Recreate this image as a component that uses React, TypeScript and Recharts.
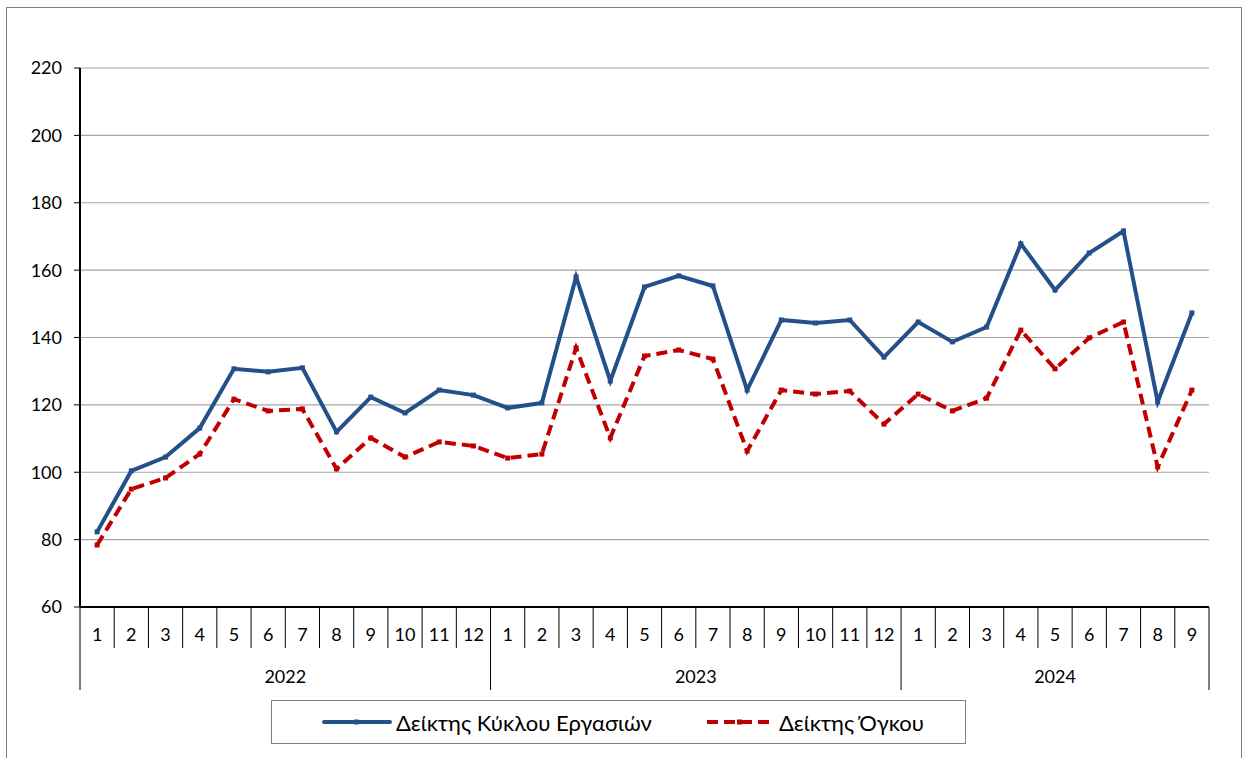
import { CartesianGrid, Line, LineChart, XAxis, YAxis } from "recharts";

/* Δείκτες Κύκλου Εργασιών / Όγκου, monthly 2022–2024 (Excel-style line chart). */

const months = [
  "1", "2", "3", "4", "5", "6", "7", "8", "9", "10", "11", "12",
  "1", "2", "3", "4", "5", "6", "7", "8", "9", "10", "11", "12",
  "1", "2", "3", "4", "5", "6", "7", "8", "9",
];
const years = [
  "2022", "2022", "2022", "2022", "2022", "2022", "2022", "2022", "2022", "2022", "2022", "2022",
  "2023", "2023", "2023", "2023", "2023", "2023", "2023", "2023", "2023", "2023", "2023", "2023",
  "2024", "2024", "2024", "2024", "2024", "2024", "2024", "2024", "2024",
];
const turnover = [
  82.3, 100.4, 104.5, 113.1, 130.7, 129.8, 131.0, 112.0, 122.3, 117.6, 124.4, 122.9,
  119.1, 120.6, 158.0, 127.1, 155.0, 158.3, 155.3, 124.4, 145.2, 144.3, 145.2, 134.2,
  144.6, 138.7, 143.1, 167.8, 154.1, 165.1, 171.6, 120.9, 147.3,
];
const volume = [
  78.4, 95.0, 98.3, 105.4, 121.7, 118.2, 118.8, 101.0, 110.2, 104.5, 109.0, 107.8,
  104.2, 105.4, 136.9, 110.2, 134.5, 136.3, 133.6, 106.3, 124.4, 123.2, 124.1, 114.3,
  123.2, 118.2, 122.0, 142.2, 130.7, 139.9, 144.6, 101.6, 124.4,
];
const yTicks = [60, 80, 100, 120, 140, 160, 180, 200, 220];

const SERIES_TURNOVER = "Δείκτης Κύκλου Εργασιών";
const SERIES_VOLUME = "Δείκτης Όγκου";

const data = months.map((m, i) => ({
  key: `${years[i]}-${m}`,
  month: m,
  year: years[i],
  turnover: turnover[i],
  volume: volume[i],
}));

const W = 1245;
const H = 758;
const M = { top: 68, right: 36, bottom: 61, left: 0 };
const Y_AXIS_W = 80;
const X_AXIS_H = 90;
const PLOT_W = W - M.left - M.right - Y_AXIS_W;
const BAND = PLOT_W / data.length;

const FONT = "Lato, 'Open Sans', sans-serif";
const BLUE = "#24508a";
const RED = "#c00000";

function SquareDot({ cx, cy, fill }: { cx?: number; cy?: number; fill: string }) {
  if (cx == null || cy == null) return <g />;
  return <rect x={cx - 2.5} y={cy - 2.5} width={5} height={5} fill={fill} />;
}

/* Month label + category dividers, and the year label under its group. */
function MonthTick(props: any) {
  const { x, y, index } = props;
  const i: number = index;
  const firstOfYear = i === 0 || years[i] !== years[i - 1];
  const last = i === data.length - 1;
  const left = x - BAND / 2;
  const right = x + BAND / 2;
  let yearLabel = null;
  if (firstOfYear) {
    const count = years.filter((yr) => yr === years[i]).length;
    const cx = left + (count * BAND) / 2;
    yearLabel = (
      <text x={cx} y={y + 69} textAnchor="middle" dominantBaseline="central" fontSize={18} fill="#000" fontFamily={FONT}>
        {years[i]}
      </text>
    );
  }
  return (
    <g>
      <line x1={left} x2={left} y1={y} y2={y + (firstOfYear ? 83 : 41)} stroke="#000" strokeWidth={1} />
      {last && <line x1={right} x2={right} y1={y} y2={y + 83} stroke="#000" strokeWidth={1} />}
      <text x={x} y={y + 27} textAnchor="middle" dominantBaseline="central" fontSize={18} fill="#000" fontFamily={FONT}>
        {months[i]}
      </text>
      {yearLabel}
    </g>
  );
}

function LegendSample({ color, dashed }: { color: string; dashed?: boolean }) {
  return (
    <svg width={70} height={10} style={{ display: "block" }}>
      <line
        x1={2}
        x2={68}
        y1={5}
        y2={5}
        stroke={color}
        strokeWidth={4}
        strokeDasharray={dashed ? "11 6" : undefined}
        strokeLinecap={dashed ? "butt" : "round"}
      />
      <rect x={32} y={2.5} width={5} height={5} fill={color} />
    </svg>
  );
}

export default function App() {
  return (
    <div style={{ position: "absolute", left: 0, top: 0, width: W, height: H, background: "#fff", overflow: "hidden" }}>
      <div
        style={{
          position: "absolute",
          left: 6,
          top: 7,
          width: 1236,
          height: 780,
          border: "1.5px solid #808080",
          boxSizing: "border-box",
        }}
      />
      <LineChart width={W} height={H} data={data} margin={M}>
        <CartesianGrid vertical={false} stroke="#a6a6a6" strokeWidth={1.2} />
        <XAxis
          dataKey="key"
          interval={0}
          height={X_AXIS_H}
          padding={{ left: BAND / 2, right: BAND / 2 }}
          tickLine={false}
          tickSize={0}
          tickMargin={0}
          axisLine={{ stroke: "#000", strokeWidth: 2 }}
          tick={<MonthTick />}
        />
        <XAxis
          xAxisId="top"
          dataKey="key"
          orientation="top"
          height={0}
          tick={false}
          tickLine={false}
          axisLine={{ stroke: "#000", strokeWidth: 2 }}
        />
        <YAxis
          domain={[60, 220]}
          ticks={yTicks}
          width={Y_AXIS_W}
          tickSize={6}
          tickMargin={12}
          tickLine={{ stroke: "#000" }}
          axisLine={{ stroke: "#000", strokeWidth: 2 }}
          tick={{ fontSize: 18, fill: "#000", fontFamily: FONT }}
        />
        <YAxis
          yAxisId="right"
          orientation="right"
          domain={[60, 220]}
          width={0}
          tick={false}
          tickLine={false}
          axisLine={{ stroke: "#000", strokeWidth: 2 }}
        />
        <Line
          dataKey="turnover"
          name={SERIES_TURNOVER}
          type="linear"
          stroke={BLUE}
          strokeWidth={4}
          dot={<SquareDot fill={BLUE} />}
          activeDot={false}
          isAnimationActive={false}
        />
        <Line
          dataKey="volume"
          name={SERIES_VOLUME}
          type="linear"
          stroke={RED}
          strokeWidth={4}
          strokeDasharray="11 6"
          dot={<SquareDot fill={RED} />}
          activeDot={false}
          isAnimationActive={false}
        />
      </LineChart>
      <div
        style={{
          position: "absolute",
          left: 271,
          top: 700,
          width: 695,
          height: 44,
          border: "1px solid #808080",
          boxSizing: "border-box",
          display: "flex",
          alignItems: "center",
          fontFamily: FONT,
          fontSize: 22,
          color: "#000",
        }}
      >
        <div style={{ position: "absolute", left: 50, display: "flex", alignItems: "center", gap: 4 }}>
          <LegendSample color={BLUE} />
          <span>{SERIES_TURNOVER}</span>
        </div>
        <div style={{ position: "absolute", left: 433, display: "flex", alignItems: "center", gap: 4 }}>
          <LegendSample color={RED} dashed />
          <span>{SERIES_VOLUME}</span>
        </div>
      </div>
    </div>
  );
}
